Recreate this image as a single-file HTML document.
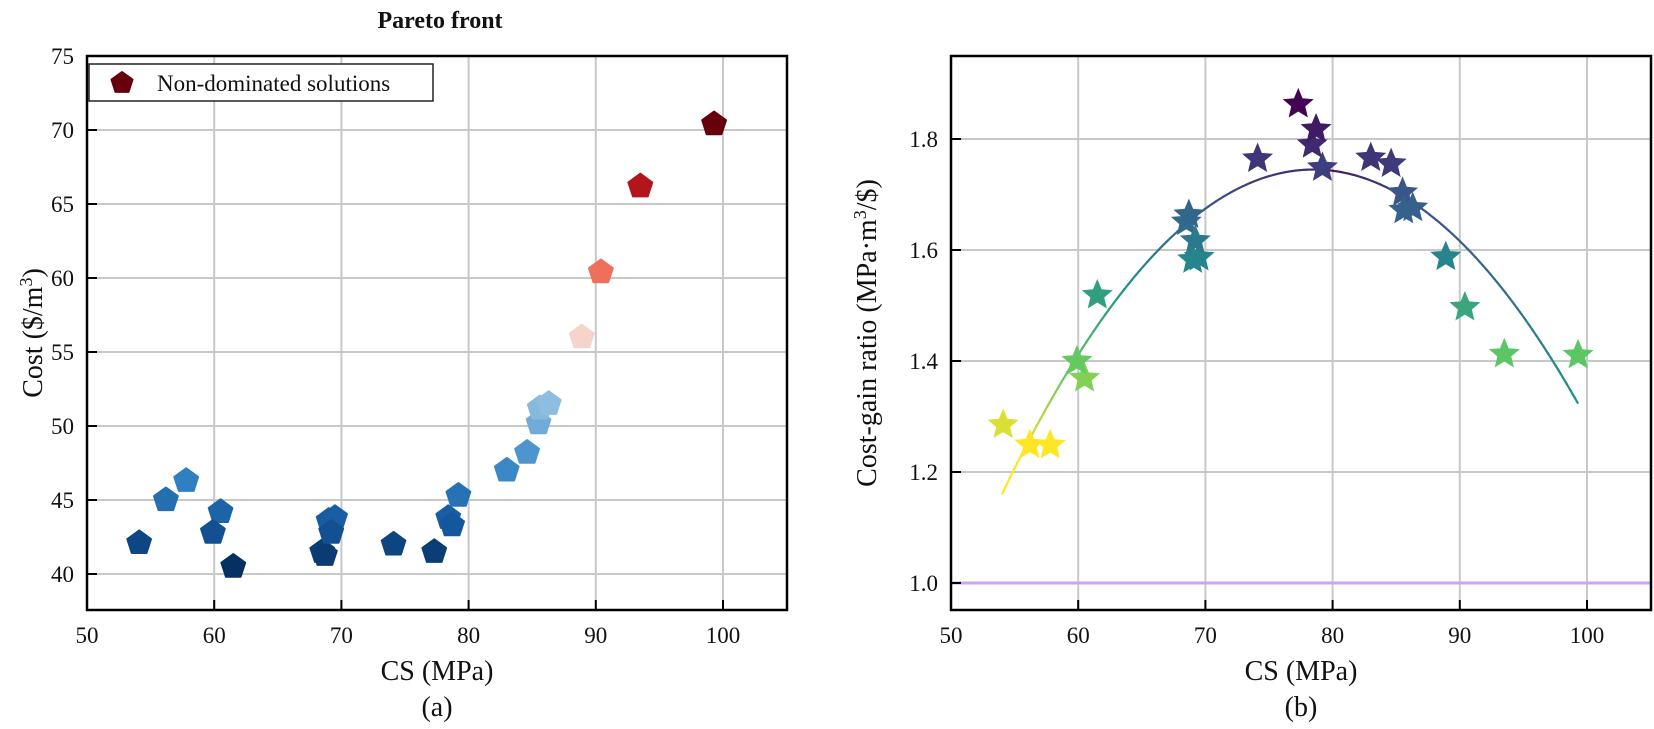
<!DOCTYPE html>
<html><head><meta charset="utf-8"><style>
body{margin:0;background:#fff}
svg{display:block}
text{font-family:"Liberation Serif",serif;fill:#111}
</style></head><body>
<svg id="s" width="1654" height="729" xmlns="http://www.w3.org/2000/svg"></svg>
<script>
const S=document.getElementById('s');let h='';
const data=[[54.1,42.1],[56.2,45.0],[57.8,46.3],[60.5,44.2],[59.9,42.8],[61.5,40.5],[68.5,41.5],[68.7,41.3],[69.0,43.6],[69.5,43.8],[69.2,42.8],[74.1,42.0],[77.3,41.5],[78.4,43.8],[78.7,43.3],[79.2,45.3],[83.0,47.0],[84.6,48.2],[85.5,50.2],[85.6,51.2],[86.3,51.5],[88.9,56.0],[90.4,60.4],[93.5,66.2],[99.3,70.4]];
function lerpStops(st,t){t=Math.max(0,Math.min(1,t));for(let i=0;i<st.length-1;i++){if(t<=st[i+1][0]){const f=(t-st[i][0])/(st[i+1][0]-st[i][0]);const a=st[i][1],b=st[i+1][1];return 'rgb('+[0,1,2].map(k=>Math.round(a[k]+(b[k]-a[k])*f)).join(',')+')';}}const l=st[st.length-1][1];return 'rgb('+l.join(',')+')';}
const vir=[[0,[68,1,84]],[0.25,[59,82,139]],[0.5,[33,145,140]],[0.75,[94,201,98]],[1,[253,231,37]]];
const rdbu=[[0,[5,48,97]],[0.1,[22,90,160]],[0.2,[50,130,195]],[0.32,[110,170,215]],[0.42,[175,210,232]],[0.5,[245,225,222]],[0.6,[250,150,120]],[0.8,[210,30,35]],[1,[103,0,13]]];
function cmapCost(c){return lerpStops(rdbu,(c-40.5)/(70.4-40.5));}
function cmapR(r){return lerpStops(vir,(1.865-r)/(1.865-1.25));}
const LX=v=>87+(v-50)*12.72, LY=c=>56+(75-c)*14.8;
const RX=v=>951+(v-50)*12.72, RY=r=>583-(r-1)*555;
function grid(x0,x1,y0,y1,xs,ys){let s='';xs.forEach(x=>s+=`<line x1="${x}" y1="${y0}" x2="${x}" y2="${y1}" stroke="#c8c8c8" stroke-width="2"/>`);ys.forEach(y=>s+=`<line x1="${x0}" y1="${y}" x2="${x1}" y2="${y}" stroke="#c8c8c8" stroke-width="2"/>`);return s;}
let xs=[60,70,80,90,100].map(LX), ys=[40,45,50,55,60,65,70].map(LY);
h+=grid(87,787,56,610,xs,ys);
let xs2=[60,70,80,90,100].map(RX), ys2=[1.2,1.4,1.6,1.8].map(RY);
h+=grid(951,1651,56,610,xs2,ys2);
h+=`<line x1="951" y1="${RY(1)}" x2="1651" y2="${RY(1)}" stroke="#c9a6f5" stroke-width="3"/>`;
[50,60,70,80,90,100].forEach(v=>{h+=`<line x1="${LX(v)}" y1="610" x2="${LX(v)}" y2="600" stroke="#000" stroke-width="2"/><text x="${LX(v)}" y="643" font-size="23" text-anchor="middle">${v}</text>`;
h+=`<line x1="${RX(v)}" y1="610" x2="${RX(v)}" y2="600" stroke="#000" stroke-width="2"/><text x="${RX(v)}" y="643" font-size="23" text-anchor="middle">${v}</text>`;});
[40,45,50,55,60,65,70,75].forEach(c=>{h+=`<line x1="87" y1="${LY(c)}" x2="97" y2="${LY(c)}" stroke="#000" stroke-width="2"/><text x="74" y="${LY(c)+8}" font-size="23" text-anchor="end">${c}</text>`;});
[1.0,1.2,1.4,1.6,1.8].forEach(r=>{h+=`<line x1="951" y1="${RY(r)}" x2="961" y2="${RY(r)}" stroke="#000" stroke-width="2"/><text x="938" y="${RY(r)+8}" font-size="23" text-anchor="end">${r.toFixed(1)}</text>`;});
const f=v=>1.745-0.000975*(v-78.5)*(v-78.5);
function ccol(v){if(v<=78.5)return cmapR(f(v)+0.03);return lerpStops(vir,0.05+0.45*(v-78.5)/20.8);}
for(let v=54;v<99.3;v+=0.3){const v2=Math.min(v+0.35,99.3);h+=`<line x1="${RX(v)}" y1="${RY(f(v))}" x2="${RX(v2)}" y2="${RY(f(v2))}" stroke="${ccol(v)}" stroke-width="2.2"/>`;}
function pent(cx,cy,r,col){let p=[];for(let i=0;i<5;i++){const a=-Math.PI/2+i*2*Math.PI/5;p.push((cx+r*Math.cos(a)).toFixed(1)+','+(cy+r*Math.sin(a)).toFixed(1));}return `<polygon points="${p.join(' ')}" fill="${col}" stroke="${col}" stroke-width="2" stroke-linejoin="round"/>`;}
function star(cx,cy,r,col){let p=[];for(let i=0;i<10;i++){const a=-Math.PI/2+i*Math.PI/5;const rr=i%2?r*0.45:r;p.push((cx+rr*Math.cos(a)).toFixed(1)+','+(cy+rr*Math.sin(a)).toFixed(1));}return `<polygon points="${p.join(' ')}" fill="${col}" stroke="${col}" stroke-width="1"/>`;}
data.forEach(([v,c])=>{h+=pent(LX(v),LY(c),12.5,cmapCost(c));const r=v/c;h+=star(RX(v),RY(r),15,cmapR(r));});
h+=`<rect x="87" y="56" width="700" height="554" fill="none" stroke="#000" stroke-width="2.5"/>`;
h+=`<rect x="951" y="56" width="700" height="554" fill="none" stroke="#000" stroke-width="2.5"/>`;
h+=`<rect x="89" y="64" width="344" height="37" fill="#fff" stroke="#222" stroke-width="1.5"/>`;
h+=pent(122,83,11,'#67000d');
h+=`<text x="157" y="91" font-size="23">Non-dominated solutions</text>`;
h+=`<text x="440" y="28" font-size="24" font-weight="bold" text-anchor="middle">Pareto front</text>`;
h+=`<text x="437" y="680" font-size="28" text-anchor="middle">CS (MPa)</text>`;
h+=`<text x="437" y="716" font-size="28" text-anchor="middle">(a)</text>`;
h+=`<text x="1301" y="680" font-size="28" text-anchor="middle">CS (MPa)</text>`;
h+=`<text x="1301" y="716" font-size="28" text-anchor="middle">(b)</text>`;
h+=`<text transform="translate(42,333) rotate(-90)" font-size="28" text-anchor="middle">Cost ($/m<tspan dy="-10" font-size="18">3</tspan><tspan dy="10">)</tspan></text>`;
h+=`<text transform="translate(876,333) rotate(-90)" font-size="28" text-anchor="middle">Cost-gain ratio (MPa·m<tspan dy="-10" font-size="18">3</tspan><tspan dy="10">/$)</tspan></text>`;
S.innerHTML=h;
</script>
</body></html>
